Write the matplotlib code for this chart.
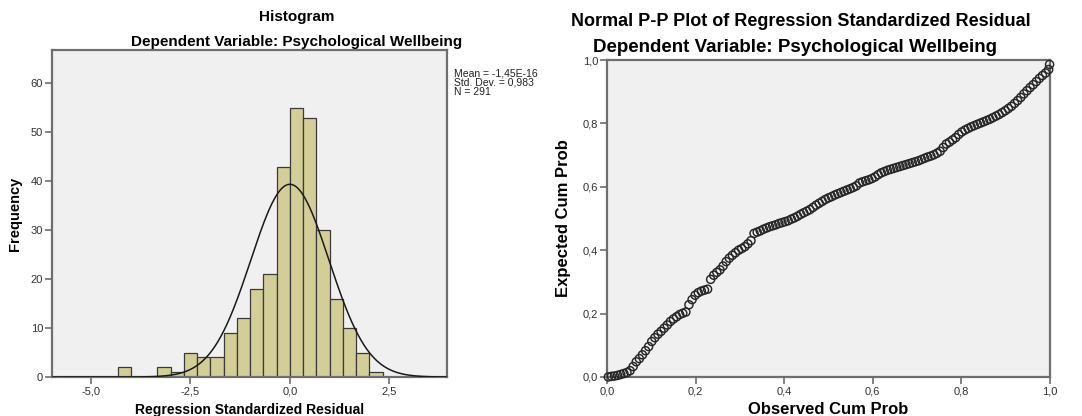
import numpy as np
import matplotlib
matplotlib.use("Agg")
import matplotlib.pyplot as plt
from matplotlib.ticker import FuncFormatter

plt.rcParams['font.family'] = ['Liberation Sans', 'DejaVu Sans']

# ---------------- data ----------------
bin_width = 1 / 3
bin_starts = [-13/3, -10/3, -3.0, -8/3, -7/3, -2.0, -5/3, -4/3, -1.0, -2/3, -1/3,
              0.0, 1/3, 2/3, 1.0, 4/3, 5/3, 2.0]
counts = [2, 2, 1, 5, 4, 4, 9, 12, 18, 21, 43, 55, 53, 30, 16, 10, 5, 1]
res_mean = -1.45e-16
res_sd = 0.983
res_n = 291
stats_lines = ["Mean = -1,45E-16", "Std. Dev. = 0,983", "N = 291"]
hist_xticks = [-5.0, -2.5, 0.0, 2.5]
hist_yticks = [0, 10, 20, 30, 40, 50, 60]
pp_ticks = [0.0, 0.2, 0.4, 0.6, 0.8, 1.0]

pp_observed = [
    0.003, 0.010, 0.017, 0.024, 0.031, 0.038, 0.045, 0.052, 0.059, 0.066,
    0.073, 0.080, 0.087, 0.094, 0.101, 0.108, 0.115, 0.122, 0.129, 0.136,
    0.143, 0.150, 0.157, 0.164, 0.171, 0.178, 0.185, 0.192, 0.199, 0.206,
    0.213, 0.220, 0.227, 0.234, 0.241, 0.248, 0.255, 0.262, 0.269, 0.276,
    0.283, 0.290, 0.297, 0.304, 0.311, 0.318, 0.325, 0.332, 0.339, 0.346,
    0.353, 0.360, 0.367, 0.374, 0.381, 0.388, 0.395, 0.402, 0.409, 0.416,
    0.423, 0.430, 0.437, 0.444, 0.451, 0.458, 0.465, 0.472, 0.479, 0.486,
    0.493, 0.500, 0.507, 0.514, 0.521, 0.528, 0.535, 0.542, 0.549, 0.556,
    0.563, 0.570, 0.577, 0.584, 0.591, 0.598, 0.605, 0.612, 0.619, 0.626,
    0.633, 0.640, 0.647, 0.654, 0.661, 0.668, 0.675, 0.682, 0.689, 0.696,
    0.703, 0.710, 0.717, 0.724, 0.731, 0.738, 0.745, 0.752, 0.759, 0.766,
    0.773, 0.780, 0.787, 0.794, 0.801, 0.808, 0.815, 0.822, 0.829, 0.836,
    0.843, 0.850, 0.857, 0.864, 0.871, 0.878, 0.885, 0.892, 0.899, 0.906,
    0.913, 0.920, 0.927, 0.934, 0.941, 0.948, 0.955, 0.962, 0.969, 0.976,
    0.983, 0.990, 0.997, 0.999]
pp_expected = [
    0.000, 0.002, 0.003, 0.005, 0.008, 0.011, 0.014, 0.020, 0.033, 0.048,
    0.058, 0.070, 0.083, 0.096, 0.112, 0.124, 0.135, 0.144, 0.154, 0.164,
    0.175, 0.183, 0.190, 0.197, 0.201, 0.205, 0.228, 0.244, 0.258, 0.266,
    0.271, 0.274, 0.277, 0.308, 0.321, 0.330, 0.338, 0.350, 0.364, 0.375,
    0.384, 0.392, 0.400, 0.405, 0.411, 0.420, 0.430, 0.453, 0.457, 0.461,
    0.466, 0.470, 0.474, 0.477, 0.480, 0.484, 0.487, 0.490, 0.493, 0.498,
    0.502, 0.507, 0.513, 0.518, 0.523, 0.528, 0.535, 0.542, 0.548, 0.554,
    0.560, 0.565, 0.569, 0.574, 0.578, 0.582, 0.586, 0.590, 0.594, 0.598,
    0.603, 0.612, 0.616, 0.619, 0.622, 0.626, 0.631, 0.638, 0.644, 0.648,
    0.652, 0.655, 0.658, 0.661, 0.664, 0.667, 0.670, 0.673, 0.676, 0.679,
    0.682, 0.686, 0.690, 0.694, 0.697, 0.701, 0.706, 0.712, 0.724, 0.735,
    0.741, 0.748, 0.755, 0.765, 0.773, 0.779, 0.784, 0.789, 0.793, 0.797,
    0.801, 0.805, 0.809, 0.813, 0.818, 0.823, 0.828, 0.834, 0.840, 0.847,
    0.854, 0.863, 0.872, 0.882, 0.893, 0.903, 0.913, 0.922, 0.932, 0.942,
    0.951, 0.959, 0.970, 0.986]

# ---------------- style ----------------
W, H = 1082, 416
fig = plt.figure(figsize=(W / 100, H / 100), dpi=100)
fig.patch.set_facecolor('white')

bg = '#f0f0f0'
spine_c = '#6e6e6e'
tick_c = '#303030'


def comma(v, pos=None):
    return f"{v:.1f}".replace('.', ',')


def style_axes(ax):
    ax.set_facecolor(bg)
    for s in ax.spines.values():
        s.set_color(spine_c)
        s.set_linewidth(1.6)
    ax.tick_params(direction='out', length=5, width=1.2, color=spine_c,
                   labelsize=8, labelcolor=tick_c, pad=1.5)


def box(l, t, r, b):
    return [l / W, 1 - b / H, (r - l) / W, (b - t) / H]


# ---------------- histogram ----------------
ax1 = fig.add_axes(box(52, 50, 447, 377))
style_axes(ax1)
ax1.bar(bin_starts, counts, width=bin_width, align='edge',
        color='#d3ce97', edgecolor='#3a3a3a', linewidth=0.9, zorder=2)
xs = np.linspace(-6, 4, 500)
pdf = res_n * bin_width * np.exp(-0.5 * ((xs - res_mean) / res_sd) ** 2) / (res_sd * np.sqrt(2 * np.pi))
ax1.plot(xs, pdf, color='#1a1a1a', lw=1.1, zorder=3)
ax1.set_xlim(-5.98, 3.95)
ax1.set_ylim(0, 66.8)
ax1.set_xticks(hist_xticks)
ax1.xaxis.set_major_formatter(FuncFormatter(comma))
ax1.set_yticks(hist_yticks)
ax1.set_xlabel('Regression Standardized Residual', fontsize=10, fontweight='bold', labelpad=5)
ax1.set_ylabel('Frequency', fontsize=10.5, fontweight='bold', labelpad=6)

fig.text(297 / W, 1 - 17 / H, 'Histogram', ha='center', va='center',
         fontsize=11, fontweight='bold')
fig.text(297 / W, 1 - 42 / H, 'Dependent Variable: Psychological Wellbeing',
         ha='center', va='center', fontsize=11, fontweight='bold')
fig.text(454 / W, 1 - 68 / H, "\n".join(stats_lines),
         ha='left', va='top', fontsize=7.5, linespacing=0.92, color='#202020')

# ---------------- P-P plot ----------------
ax2 = fig.add_axes(box(607, 60, 1050, 377))
style_axes(ax2)
ax2.scatter(pp_observed, pp_expected, s=34, facecolors='none',
            edgecolors='#262626', linewidths=1.05, zorder=3, clip_on=False)
ax2.set_xlim(0, 1.0)
ax2.set_ylim(0, 1.0)
ax2.set_xticks(pp_ticks)
ax2.set_yticks(pp_ticks)
ax2.xaxis.set_major_formatter(FuncFormatter(comma))
ax2.yaxis.set_major_formatter(FuncFormatter(comma))
ax2.set_xlabel('Observed Cum Prob', fontsize=12, fontweight='bold', labelpad=4)
ax2.set_ylabel('Expected Cum Prob', fontsize=12, fontweight='bold', labelpad=8)

fig.text(801 / W, 1 - 21 / H, 'Normal P-P Plot of Regression Standardized Residual',
         ha='center', va='center', fontsize=13, fontweight='bold')
fig.text(795 / W, 1 - 47 / H, 'Dependent Variable: Psychological Wellbeing',
         ha='center', va='center', fontsize=13.5, fontweight='bold')

fig.savefig('out.png', dpi=100, facecolor='white')
